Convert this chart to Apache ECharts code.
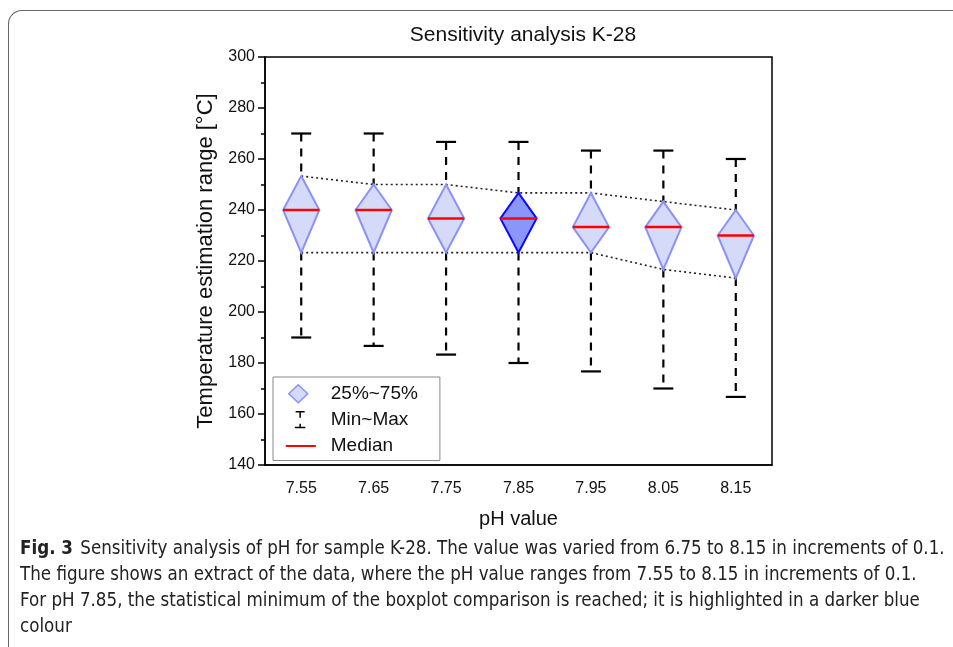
<!DOCTYPE html>
<html>
<head>
<meta charset="utf-8">
<script src="https://cdn.jsdelivr.net/npm/echarts@6/dist/echarts.min.js"></script>
<style>
  html, body { margin: 0; padding: 0; background: #fff; }
  #frame {
    position: absolute; left: 8px; top: 10px; width: 980px; height: 700px;
    border-top: 1.5px solid #666; border-left: 1.5px solid #666;
    border-top-left-radius: 14px;
  }
  #main { position: absolute; left: 0; top: 0; width: 953px; height: 647px; }
  #caption {
    position: absolute; left: 20px; top: 535px; white-space: nowrap;
    font-family: "Liberation Sans Narrow", "DejaVu Sans Condensed", sans-serif;
    font-size: 18.6px; line-height: 26px; color: #222;
  }
  #caption b { font-weight: bold; margin-right: 2px; }
</style>
</head>
<body>
<div id="frame"></div>
<div id="main"></div>
<div id="caption"><b>Fig. 3</b> Sensitivity analysis of pH for sample K-28. The value was varied from 6.75 to 8.15 in increments of 0.1.<br>The figure shows an extract of the data, where the pH value ranges from 7.55 to 8.15 in increments of 0.1.<br>For pH 7.85, the statistical minimum of the boxplot comparison is reached; it is highlighted in a darker blue<br>colour</div>
<script>
// pH-Werte und Kennzahlen
var phValues = ['7.55', '7.65', '7.75', '7.85', '7.95', '8.05', '8.15'];
var minVals = [190, 186.7, 183.3, 180, 176.7, 170, 166.7];
var q1Vals = [223.3, 223.3, 223.3, 223.3, 223.3, 216.7, 213.3];
var medianVals = [240, 240, 236.7, 236.7, 233.3, 233.3, 230];
var q3Vals = [253.3, 250, 250, 246.7, 246.7, 243.3, 240];
var maxVals = [270, 270, 266.7, 266.7, 263.3, 263.3, 260];
var highlightIndex = 3;

var chart = echarts.init(document.getElementById('main'));

var boxData = [];
for (var i = 0; i < phValues.length; i++) {
    boxData.push([i, minVals[i], q1Vals[i], medianVals[i], q3Vals[i], maxVals[i]]);
}

function whiskerItem(params, api) {
    var x = api.value(0);
    var pMin = api.coord([x, api.value(1)]);
    var pQ1 = api.coord([x, api.value(2)]);
    var pQ3 = api.coord([x, api.value(4)]);
    var pMax = api.coord([x, api.value(5)]);
    var cap = 10;
    var dash = { stroke: '#000', lineWidth: 2.2, lineDash: [8, 7] };
    var solid = { stroke: '#000', lineWidth: 2.2 };
    return {
        type: 'group',
        children: [
            { type: 'line', shape: { x1: pMax[0], y1: pMax[1], x2: pQ3[0], y2: pQ3[1] }, style: dash },
            { type: 'line', shape: { x1: pQ1[0], y1: pQ1[1], x2: pMin[0], y2: pMin[1] }, style: dash },
            { type: 'line', shape: { x1: pMax[0] - cap, y1: pMax[1], x2: pMax[0] + cap, y2: pMax[1] }, style: solid },
            { type: 'line', shape: { x1: pMin[0] - cap, y1: pMin[1], x2: pMin[0] + cap, y2: pMin[1] }, style: solid }
        ]
    };
}

function diamondItem(params, api) {
    var x = api.value(0);
    var pQ1 = api.coord([x, api.value(2)]);
    var pMed = api.coord([x, api.value(3)]);
    var pQ3 = api.coord([x, api.value(4)]);
    var hw = api.size([1, 0])[0] * 0.25;
    var hi = params.dataIndex === highlightIndex;
    return {
        type: 'polygon',
        shape: { points: [[pQ3[0], pQ3[1]], [pMed[0] + hw, pMed[1]], [pQ1[0], pQ1[1]], [pMed[0] - hw, pMed[1]]] },
        style: {
            fill: hi ? '#8c96fa' : '#d6daf9',
            stroke: hi ? '#0a0aff' : '#8a92f5',
            lineWidth: 2
        }
    };
}

function medianItem(params, api) {
    var x = api.value(0);
    var pMed = api.coord([x, api.value(3)]);
    var hw = api.size([1, 0])[0] * 0.25;
    return {
        type: 'line',
        shape: { x1: pMed[0] - hw, y1: pMed[1], x2: pMed[0] + hw, y2: pMed[1] },
        style: { stroke: '#ff0000', lineWidth: 2.5 }
    };
}

option = {
    backgroundColor: 'transparent',
    animation: false,
    title: {
        text: 'Sensitivity analysis K-28',
        left: 518,
        textAlign: 'center',
        top: 20,
        textStyle: { fontFamily: 'Liberation Sans', fontWeight: 'normal', fontSize: 21, color: '#111' }
    },
    legend: {
        orient: 'vertical',
        left: 273,
        top: 377,
        padding: [7, 22, 5, 12],
        itemGap: 7,
        itemWidth: 40,
        itemHeight: 18,
        borderColor: '#888',
        borderWidth: 1,
        backgroundColor: '#fff',
        textStyle: { fontFamily: 'Liberation Sans', fontSize: 19, color: '#111' },
        data: [
            {
                name: '25%~75%',
                icon: 'path://M0,0M40,18M3,9L12.5,0L22,9L12.5,18Z',
                itemStyle: { color: '#d6daf9', borderColor: '#8a92f5', borderWidth: 1.5 }
            },
            {
                name: 'Min~Max',
                icon: 'path://M0,-3M40,21M6.5,-3H18.5V-1H13.5V6H11.5V-1H6.5Z M11.5,14H13.5V18H19.5V20H5.5V18H11.5Z',
                itemStyle: { color: '#000' }
            },
            {
                name: 'Median',
                icon: 'path://M0,0M40,18M0,8H30V10H0Z',
                itemStyle: { color: '#ff0000' }
            }
        ]
    },
    grid: {
        left: 265, right: 181, top: 57, bottom: 182,
        show: true, borderColor: '#000', borderWidth: 1.5, backgroundColor: 'transparent'
    },
    xAxis: {
        type: 'category',
        data: phValues,
        boundaryGap: true,
        name: 'pH value',
        nameLocation: 'middle',
        nameGap: 44,
        nameTextStyle: { fontFamily: 'Liberation Sans', fontSize: 20, color: '#111' },
        axisLine: { lineStyle: { color: '#000', width: 1.5 } },
        axisTick: { alignWithLabel: true, length: 6, lineStyle: { color: '#000', width: 1.5 } },
        axisLabel: { fontFamily: 'Liberation Sans', fontSize: 16, color: '#111', margin: 16 },
        splitLine: { show: false }
    },
    yAxis: {
        type: 'value',
        min: 140,
        max: 300,
        interval: 20,
        name: 'Temperature estimation range [°C]',
        nameLocation: 'middle',
        nameGap: 46,
        nameTextStyle: { fontFamily: 'Liberation Sans', fontSize: 22, color: '#111' },
        axisLine: { show: true, lineStyle: { color: '#000', width: 1.5 } },
        axisTick: { show: true, length: 7, lineStyle: { color: '#000', width: 1.5 } },
        minorTick: { show: true, splitNumber: 2, length: 4, lineStyle: { color: '#000', width: 1.5 } },
        axisLabel: { fontFamily: 'Liberation Sans', fontSize: 16, color: '#111', margin: 10 },
        splitLine: { show: false }
    },
    series: [
        {
            type: 'line',
            data: q3Vals,
            symbol: 'none',
            lineStyle: { color: '#222', width: 1.6, type: [2, 3] },
            z: 1
        },
        {
            type: 'line',
            data: q1Vals,
            symbol: 'none',
            lineStyle: { color: '#222', width: 1.6, type: [2, 3] },
            z: 1
        },
        {
            name: 'Min~Max',
            type: 'custom',
            renderItem: whiskerItem,
            encode: { x: 0, y: [1, 2, 4, 5] },
            data: boxData,
            z: 2
        },
        {
            name: '25%~75%',
            type: 'custom',
            renderItem: diamondItem,
            encode: { x: 0, y: [2, 3, 4] },
            data: boxData,
            z: 3
        },
        {
            name: 'Median',
            type: 'custom',
            renderItem: medianItem,
            encode: { x: 0, y: 3 },
            data: boxData,
            z: 4
        }
    ]
};
chart.setOption(option);
</script>
</body>
</html>
